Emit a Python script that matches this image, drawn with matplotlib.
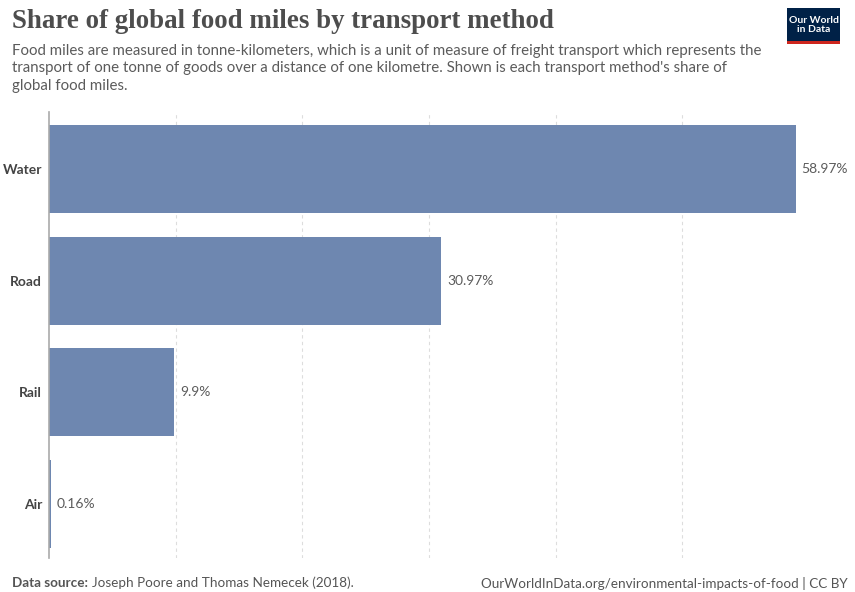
import matplotlib.pyplot as plt
from matplotlib.patches import Rectangle

# data
methods = ['Water', 'Road', 'Rail', 'Air']
shares = [58.97, 30.97, 9.9, 0.16]
value_labels = ['58.97%', '30.97%', '9.9%', '0.16%']

W, H = 855, 592
fig = plt.figure(figsize=(W / 100, H / 100), dpi=100)

# axes placed in pixel coords
ax_left, ax_right = 49, 810
ax_top, ax_bottom = 112, 558
ax = fig.add_axes([ax_left / W, 1 - ax_bottom / H, (ax_right - ax_left) / W, (ax_bottom - ax_top) / H])

px_per_unit = (796 - 49) / 58.97
ax.set_xlim(0, (ax_right - ax_left) / px_per_unit)
pitch = 111.7
ax.set_ylim(3 + (ax_bottom - 504) / pitch, -(169 - ax_top) / pitch)

bar_color = '#6e87b0'
ax.barh(range(len(methods)), shares, height=0.79, color=bar_color, zorder=2)

for i, (v, lab) in enumerate(zip(shares, value_labels)):
    ax.text(v + 0.45, i, lab, va='center', ha='left', fontsize=10, color='#5b5b5b', family='Lato')

ax.set_yticks(range(len(methods)))
ax.set_yticklabels(methods, fontsize=10, color='#444444', family='Lato', fontweight='bold')
ax.tick_params(axis='y', length=0, pad=5)
ax.set_xticks([10, 20, 30, 40, 50])
ax.tick_params(axis='x', length=0, labelbottom=False)
ax.grid(axis='x', linestyle=(0, (3, 3)), color='#dddddd', linewidth=0.8, zorder=0)

for s in ['top', 'right', 'bottom']:
    ax.spines[s].set_visible(False)
ax.spines['left'].set_color('#aaaaaa')
ax.spines['left'].set_linewidth(1.2)

# title and subtitle
fig.text(12 / W, 1 - 22 / H, 'Share of global food miles by transport method',
         fontsize=19.4, color='#4d4d4d', family='Liberation Serif', fontweight='bold', va='center')
subtitle = ("Food miles are measured in tonne-kilometers, which is a unit of measure of freight transport which represents the\n"
            "transport of one tonne of goods over a distance of one kilometre. Shown is each transport method's share of\n"
            "global food miles.")
fig.text(12 / W, 1 - 44 / H, subtitle, fontsize=10.8, color='#5b5b5b', family='Lato',
         va='top', linespacing=1.3)

# footer
fig.text(12 / W, 1 - 583 / H, 'Data source:', fontsize=9.7, color='#555555', family='Lato',
         fontweight='bold', va='center')
fig.text(91.5 / W, 1 - 583 / H, 'Joseph Poore and Thomas Nemecek (2018).', fontsize=9.7,
         color='#555555', family='Lato', va='center')
fig.text(848 / W, 1 - 583 / H, 'OurWorldInData.org/environmental-impacts-of-food | CC BY',
         fontsize=9.7, color='#555555', family='Lato', va='center', ha='right')

# logo
fig.patches.append(Rectangle((787 / W, 1 - 44 / H), 53 / W, 36 / H, transform=fig.transFigure,
                             facecolor='#002147', edgecolor='none'))
fig.patches.append(Rectangle((787 / W, 1 - 44 / H), 53 / W, 3 / H, transform=fig.transFigure,
                             facecolor='#ce261e', edgecolor='none'))
fig.text(813.5 / W, 1 - 25 / H, 'Our World\nin Data', fontsize=7.5, color='white', family='Lato',
         fontweight='bold', ha='center', va='center', linespacing=1.0)

fig.savefig('out.png', dpi=100)
